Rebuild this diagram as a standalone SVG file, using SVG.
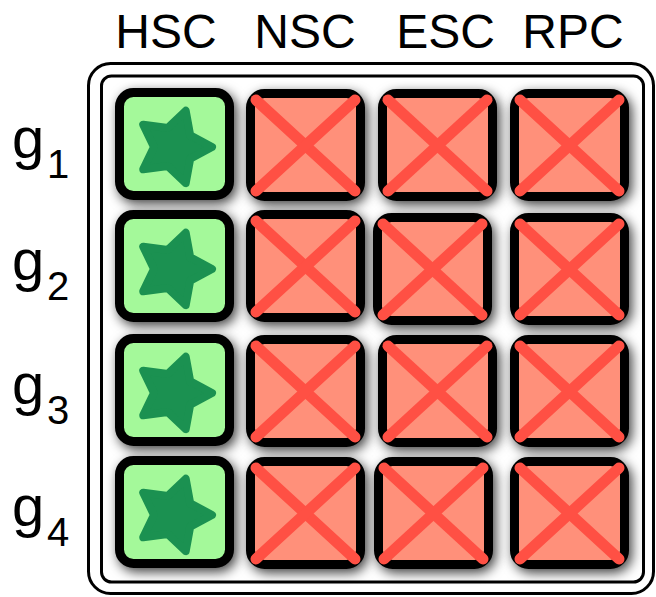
<svg xmlns="http://www.w3.org/2000/svg" xmlns:xlink="http://www.w3.org/1999/xlink" width="656" height="597" viewBox="0 0 656 597">
<style>
.lbl{font-family:"Liberation Sans",Arial,sans-serif;fill:#000}
.col{font-size:48px;text-anchor:middle}
.g{font-size:58px}
.sub{font-size:40px}
.frame{fill:none;stroke:#000;stroke-width:3}
.tile{stroke:#000;stroke-width:9}
.ok{fill:#A4F99A}
.no{fill:#FF907A}
.x{stroke:#FF5044;stroke-width:11;stroke-linecap:round}
.star{fill:#1B9151;stroke:#1B9151;stroke-width:8;stroke-linejoin:round}
</style>
<defs>
<filter id="sh" x="-30%" y="-30%" width="160%" height="160%">
<feDropShadow dx="3" dy="4" stdDeviation="6" flood-color="#000" flood-opacity="0.75"/>
</filter>
<path id="starp" class="star" d="M38,0 L16.18,11.76 L11.74,36.14 L-6.18,19.02 L-30.74,22.34 L-20,0 L-30.74,-22.34 L-6.18,-19.02 L11.74,-36.14 L16.18,-11.76 Z"/>
<g id="good">
<rect class="tile ok" x="4.5" y="4.5" width="110" height="103" rx="14" filter="url(#sh)"/>
<use xlink:href="#starp" href="#starp" x="59" y="59"/>
</g>
<g id="bad">
<rect class="tile no" x="4.5" y="4.5" width="110" height="103" rx="14" filter="url(#sh)"/>
<line class="x" x1="10" y1="11" x2="109" y2="102"/>
<line class="x" x1="109" y1="11" x2="10" y2="102"/>
</g>
</defs>
<rect width="656" height="597" fill="#fff"/>
<g id="headers">
<text class="lbl col" x="166" y="48">HSC</text>
<text class="lbl col" x="305" y="48">NSC</text>
<text class="lbl col" x="445.5" y="48">ESC</text>
<text class="lbl col" x="573" y="48">RPC</text>
</g>
<g id="rowlabels">
<text class="lbl" x="12" y="158"><tspan class="g">g</tspan><tspan class="sub" x="47" y="178">1</tspan></text>
<text class="lbl" x="12" y="280"><tspan class="g">g</tspan><tspan class="sub" x="47" y="300">2</tspan></text>
<text class="lbl" x="12" y="404"><tspan class="g">g</tspan><tspan class="sub" x="47" y="424">3</tspan></text>
<text class="lbl" x="12" y="526"><tspan class="g">g</tspan><tspan class="sub" x="47" y="546">4</tspan></text>
</g>
<g id="frame">
<rect class="frame" x="88.5" y="63.5" width="565" height="530" rx="22"/>
<rect class="frame" x="101.5" y="76" width="542" height="506" rx="10" fill="#fff"/>
</g>
<g id="r1c1"><use xlink:href="#good" href="#good" x="115" y="88"/></g>
<g id="r1c2"><use xlink:href="#bad" href="#bad" x="246" y="89"/></g>
<g id="r1c3"><use xlink:href="#bad" href="#bad" x="378" y="89"/></g>
<g id="r1c4"><use xlink:href="#bad" href="#bad" x="510" y="89"/></g>
<g id="r2c1"><use xlink:href="#good" href="#good" x="115" y="210"/></g>
<g id="r2c2"><use xlink:href="#bad" href="#bad" x="246" y="210"/></g>
<g id="r2c3"><use xlink:href="#bad" href="#bad" x="373" y="213"/></g>
<g id="r2c4"><use xlink:href="#bad" href="#bad" x="510" y="213"/></g>
<g id="r3c1"><use xlink:href="#good" href="#good" x="115" y="334"/></g>
<g id="r3c2"><use xlink:href="#bad" href="#bad" x="246" y="335"/></g>
<g id="r3c3"><use xlink:href="#bad" href="#bad" x="378" y="335"/></g>
<g id="r3c4"><use xlink:href="#bad" href="#bad" x="510" y="335"/></g>
<g id="r4c1"><use xlink:href="#good" href="#good" x="115" y="456"/></g>
<g id="r4c2"><use xlink:href="#bad" href="#bad" x="246" y="457"/></g>
<g id="r4c3"><use xlink:href="#bad" href="#bad" x="374" y="457"/></g>
<g id="r4c4"><use xlink:href="#bad" href="#bad" x="510" y="457"/></g>
<g id="connectors"/>
</svg>
